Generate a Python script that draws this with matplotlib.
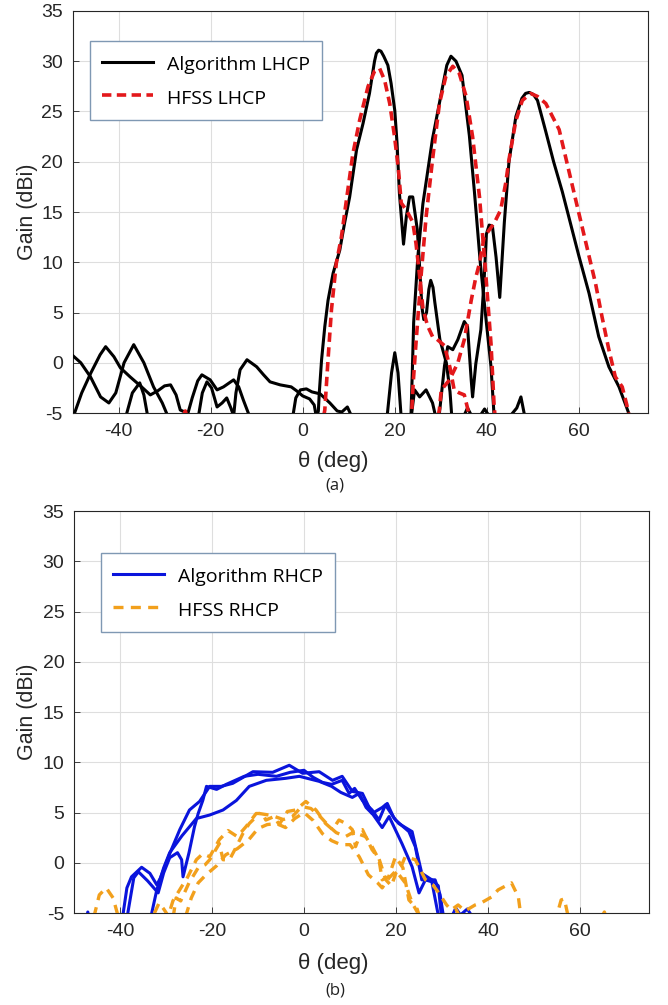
import matplotlib
matplotlib.use("Agg")
import matplotlib.pyplot as plt
import numpy as np

plt.rcParams.update({
    "font.family": ["Liberation Sans", "DejaVu Sans"],
    "axes.unicode_minus": False,
    "xtick.labelsize": 14,
    "ytick.labelsize": 14,
})

# ---- (a) LHCP : three beams, algorithm vs HFSS ----
th_alg_l1 = [-38.5, -37, -35.4, -34.5, -33.6, -30, -23.0, -22.6, -21.8, -20.8, -19.8, -18.6, -17.5, -16.5,
             -15.6, -15.0, -14.5, -13.6, -12.1, -10.0, -8.5, -7.1, -4.9, -2.5, -1.3, 0.0, 1.5, 2.5, 3.0,
             3.4, 3.6, 4.1, 4.8, 5.5, 6.6, 8.05, 9.1, 10.2, 11.7, 13.1, 14.5, 15.6, 16.0, 16.5, 17.0, 17.6,
             18.5, 19.2, 20.0, 20.5, 21.0, 21.9, 22.5, 23.2, 23.9, 24.9, 25.4, 25.9, 26.3, 26.9, 27.4, 27.8,
             28.3, 28.7, 29.8, 31.2, 32.0, 32.4, 33.5, 35.0, 35.8, 36.6, 38.5, 39.5, 40.5, 42.0, 46.5,
             47.4, 48.3, 50]
g_alg_l1 = [-5.5, -3.0, -2.0, -3.2, -5.5, -9, -6.0, -5.2, -3.0, -1.9, -2.5, -4.4, -4.0, -3.5,
            -4.5, -5.3, -3.0, -0.7, 0.3, -0.4, -1.2, -1.9, -2.2, -2.4, -2.8, -3.3, -3.6, -4.2, -5.5,
            -4.8, -3.0, 0.3, 3.6, 6.2, 8.9, 11.2, 13.9, 16.5, 21.2, 23.8, 26.8, 30.0, 30.8, 31.1, 31.0, 30.5,
            29.6, 27.8, 25.1, 21.8, 16.9, 11.8, 14.5, 16.5, 16.5, 13.2, 9.5, 5.5, 4.3, 5.0, 7.3, 8.2,
            7.5, 6.0, 2.3, 0.0, -2.9, -5.5, -6, -5.3, -4.5, -5.2, -5.3, -4.6, -5.3, -7, -4.5,
            -3.4, -5.5, -8]

th_alg_l2 = [-50, -49.7, -48, -46, -44, -42.8, -41, -39.6, -37.5, -35, -33.1, -31.5, -30, -28.7, -27.5,
             -26.6, -25.6, -25.1, -24.0, -22.8, -21.9, -20.1, -18.6, -17.2, -15.0, -13.9, -12.9, -11.4,
             -8, -2.2, -1.5, -0.5, 0.8, 2.0, 3.8, 5.9, 7.5, 8.5, 9.7, 10.8, 14, 18.3, 19.3, 20.0, 20.7,
             21.4, 22.5, 23.5, 23.8, 24.1, 25.0, 26.1, 28.2, 30.4, 31.3, 32.2, 33.3, 34.6, 36.2, 37.3,
             38.6, 39.8, 40.9, 41.6, 43, 75]
g_alg_l2 = [-8, -5.2, -3.0, -1.0, 0.8, 1.6, 0.6, -0.5, -1.4, -2.4, -3.2, -2.8, -2.3, -2.2, -3.2,
            -4.7, -4.9, -5.3, -3.5, -1.8, -1.2, -1.7, -2.7, -2.4, -1.7, -2.4, -3.7, -5.5,
            -9, -5.5, -3.5, -2.7, -2.6, -2.9, -3.1, -4.0, -4.8, -4.9, -4.4, -5.5, -9, -5.5, -1.0, 1.0, -1.0,
            -5.5, -8, -5.5, -1.0, 4.0, 10.5, 15.8, 22.3, 27.5, 29.6, 30.5, 30.0, 28.6, 22.6, 17.0,
            9.8, 4.4, -0.4, -5.5, -9, -9]

th_alg_l3 = [-51, -50.4, -48.2, -46.1, -43.9, -42.1, -40.6, -38.8, -36.7, -34.5, -32.4, -30.5, -29.4, -28,
             -20, 23.0, 23.6, 24.3, 25.4, 26.8, 28.2, 28.9, 29.3, 29.7, 30.8, 31.5, 32.6, 33.7, 35.1,
             35.8, 36.6, 36.9, 37.6, 38.7, 39.4, 39.9, 40.5, 41.2, 42.0, 42.8, 43.4, 43.8, 44.8, 46.3,
             47.6, 48.4, 49.2, 50.1, 51.0, 52.8, 54.5, 56.4, 58.2, 60.0, 62.2, 64.3, 66.5, 68.7, 70.4,
             71.2, 72]
g_alg_l3 = [1.4, 0.9, 0.0, -1.4, -3.4, -4.0, -3.0, 0.0, 1.8, 0.0, -2.4, -4.0, -5.2, -8,
            -9, -6, -5.3, -2.7, -3.4, -2.7, -4.0, -5.4, -7, -5.0, -0.3, 1.6, 1.3, 2.3, 4.1,
            3.6, -1.7, -3.4, -0.1, 3.3, 8.2, 12.8, 13.7, 13.6, 10.5, 6.5, 11.0, 14.0, 20.0, 24.5,
            26.3, 26.8, 26.9, 26.7, 26.1, 23.0, 20.0, 17.0, 13.8, 10.6, 6.9, 2.6, -0.4, -2.4, -4.5,
            -5.5, -8]

th_hfss_l1 = [-28, -26.3, -25.5, -24.7, -20, 4.3, 4.8, 5.5, 6.25, 7.3, 8.4, 9.5, 10.9, 12.4, 14.2, 15.6,
              16.7, 17.8, 18.9, 19.95, 20.8, 21.4, 22.5, 23.9, 24.6, 25.4, 26.1, 26.8, 27.2, 28.2, 29.0,
              30.8, 32.0, 32.9, 34.0, 35.1, 35.8, 36.5, 40]
g_hfss_l1 = [-8, -6, -4.8, -6, -9, -6, -4.7, 0.3, 5.3, 9.9, 12.5, 16.2, 20.8, 24.2, 27.5, 29.0,
             29.3, 28.1, 25.8, 22.5, 19.2, 15.9, 15.2, 14.0, 11.9, 8.6, 5.5, 4.2, 3.6, 2.6, 2.4,
             1.7, -0.5, -2.7, -3.0, -3.2, -4.5, -6, -9]

th_hfss_l2 = [-10, 23.0, 23.6, 24.0, 24.6, 25.7, 26.8, 28.2, 29.7, 31.1, 32.6, 34.0, 35.5, 36.9, 38.4,
              39.8, 40.9, 41.6, 42.2, 45]
g_hfss_l2 = [-9, -7, -5.5, -2.0, 1.9, 8.6, 14.5, 20.2, 25.8, 28.5, 29.5, 28.8, 26.5, 22.5, 16.5,
             8.6, 1.9, -4.5, -7, -9]

th_hfss_l3 = [20, 29.2, 29.7, 30.1, 31.0, 31.9, 33.7, 35.1, 36.6, 37.6, 38.4, 39.4, 40.5, 41.6, 43.0,
              44.1, 44.8, 46.3, 47.7, 49.5, 51.0, 52.8, 55.7, 59.3, 62.2, 63.6, 65.0, 66.5, 67.9, 69.4,
              70.4, 71.2, 73]
g_hfss_l3 = [-9, -6, -4.6, -2.7, -2.2, -1.7, 0.0, 2.3, 6.2, 8.5, 9.9, 12.5, 13.2, 13.9, 15.2,
             17.9, 20.2, 24.1, 26.1, 26.8, 26.5, 25.8, 23.2, 16.2, 10.6, 7.9, 4.6, 1.3, -1.4, -2.4,
             -4.2, -6, -9]

# ---- (b) RHCP ----
th_alg_r1 = [-48, -47, -46, -40, -39.3, -38.5, -37.5, -35.3, -33.5, -32.0, -31.2, -29.2, -27, -24.9, -22.7,
             -20.5, -18, -15.5, -11.1, -6.8, -3.2, -0.3, 3.3, 6.2, 8.3, 10.5, 12.7, 14.8, 17, 18.1, 19.5,
             20.6, 23.5, 25.6, 27.8, 29.2, 29.8, 30.5]
g_alg_r1 = [-7, -4.9, -7, -6, -5, -2.5, -1.4, -0.45, -1.05, -2.2, -1.5, 0.9, 3.3, 5.25, 6.1,
            7.6, 7.6, 7.9, 9.06, 9.0, 9.7, 8.9, 9.06, 8.2, 8.6, 7.1, 6.9, 4.9, 5.5, 5.9, 4.5,
            3.9, 3.1, -1.05, -1.7, -2.3, -5, -7]

th_alg_r2 = [-39, -38.3, -37, -36, -34, -31.7, -30.5, -29.2, -27.5, -26.6, -26.3, -25, -23.8, -23, -22,
             -21.2, -19, -16.9, -13, -10, -6, -3, 0, 2, 4, 6, 8.3, 9.8, 11, 12.7, 14.8, 16.3, 17.7, 19.9,
             22.8, 24.2, 25.6, 28.5, 29.6, 30.2, 31]
g_alg_r2 = [-7, -5, -1.5, -0.9, -1.8, -3.0, -1.0, 0.5, 1.0, 0.3, -1.4, 1.0, 3.6, 4.9, 6.2,
            7.6, 7.3, 7.8, 8.6, 8.8, 8.6, 9.0, 9.2, 8.5, 8.0, 7.8, 8.2, 6.9, 7.4, 6.2, 5.25, 4.25, 5.75, 4.25,
            3.1, 1.6, -1.7, -1.7, -3.2, -5, -7]

th_alg_r3 = [-34, -33.1, -32, -30.5, -29.2, -26.5, -23.4, -20.5, -17.6, -14.7, -11.9, -8.2, -4, -1, 3.3,
             6, 8, 10.5, 12, 13.5, 15, 17, 18.5, 21.3, 23.5, 25, 26.4, 27.8, 29.1, 30, 32, 33, 34, 35.5,
             36.5, 38]
g_alg_r3 = [-7, -5, -2.7, -0.5, 1.0, 2.7, 4.4, 4.75, 5.25, 6.2, 7.6, 8.2, 8.4, 8.6, 8.1,
            7.6, 7.0, 6.5, 6.9, 5.5, 4.8, 3.5, 4.6, 1.9, -0.4, -3.0, -1.7, -1.9, -5, -7, -5.5, -4.5, -5.2, -4.6,
            -5.3, -7]

th_hfss_r1 = [-47, -46, -44.5, -43, -41.5, -40, -34, -32.5, -31.5, -30.5, -29.5, -28.5, -26.5, -25.6, -23.4,
              -22, -20.5, -18.4, -16.5, -14.5, -12.6, -10.4, -9, -8.3, -6.5, -5.4, -3.6, -1.8, 0.4, 2.6,
              4.7, 6.2, 7.6, 9.1, 10.5, 11.2, 12.2, 13.4, 14.8, 16.3, 17, 18.4, 19.9, 21.5, 22.8, 24.6, 25.5]
g_hfss_r1 = [-7, -6, -3.2, -2.5, -3.5, -6, -7, -5, -4.0, -4.6, -5.3, -3.8, -2.3, -1.7, 0.3,
             0.9, 0.6, 2.3, 3.2, 2.6, 3.6, 4.9, 4.9, 4.25, 4.6, 3.8, 5.1, 5.25, 6.1, 5.25,
             3.9, 3.3, 4.25, 3.9, 3.3, 1.6, 2.8, 2.6, 1.6, 0.3, -1.7, -1.4, 0.6, -0.5, -3.7, -4.6, -6]

th_hfss_r2 = [-30, -28.3, -27.8, -26.8, -25, -23, -21.5, -20.5, -18.4, -17.6, -16.2, -14.7, -13.3, -11.9,
              -9.7, -7, -4.5, -2.5, -0.5, 1.5, 3.5, 5.5, 7, 9, 11, 12.7, 14.8, 16.3, 17.8, 19, 20, 21, 22,
              24.2, 26.4, 28, 29.3, 31, 32, 33.5, 35, 37.2, 38.5, 40.8, 42.2, 45.1, 46.6, 47.2, 50]
g_hfss_r2 = [-7, -5, -3.5, -3.8, -2, -0.5, -0.2, 0.3, 1.9, 0.3, 0.3, 1.6, 2.9, 3.9,
             4.9, 4.7, 4.3, 4.6, 5.6, 5.4, 4.6, 3.6, 3.0, 2.6, 3.1, 3.3, 1.3, 0.4, -1.7, -2.3, -1.0, -0.5, 0.6,
             0.3, -1.7, -2.2, -3.0, -4.2, -4.7, -4.2, -4.8, -4.2, -4.0, -3.4, -2.7, -2.0, -3.4, -5.5, -8]

th_hfss_r3 = [-27, -25.5, -24.5, -23, -21.3, -19, -17, -14.5, -12, -10, -8, -6, -4, -2, 0, 2, 4, 6, 8,
              10, 12, 14, 16, 17, 18.5, 20, 22, 23.5, 25, 32, 33, 34, 54.5, 55.9, 56.6, 57.5, 64, 65.3, 66]
g_hfss_r3 = [-7, -5, -3.5, -2, -1.2, -0.3, 0.8, 1.4, 2.3, 3.4, 3.8, 3.9, 3.5, 4.4, 5.0, 4.2, 2.9, 2.2, 1.8,
             1.8, 0.6, -1.2, -2.0, -2.5, -1.5, -0.8, -2, -4, -5.2, -5.5, -4.6, -5.5, -6, -3.7, -3.6, -5.5, -6,
             -4.9, -6]

x_ticks = [-40, -20, 0, 20, 40, 60]
y_ticks = list(range(-5, 36, 5))

BLACK = "#000000"
RED = "#E3181B"
BLUE = "#0A14DC"
ORANGE = "#F2A01C"


def style_axes(ax):
    ax.set_xlim(-50, 75)
    ax.set_ylim(-5, 35)
    ax.set_xticks(x_ticks)
    ax.set_yticks(y_ticks)
    ax.grid(True, color="#dedede", linewidth=0.8)
    ax.set_axisbelow(True)
    ax.tick_params(direction="in", length=4, width=0.6, colors="#262626", pad=7)
    for sp in ax.spines.values():
        sp.set_color("#262626")
        sp.set_linewidth(0.8)


def add_legend(ax, handles, labels, anchor):
    leg = ax.legend(handles, labels, loc="upper left", bbox_to_anchor=anchor,
                    borderaxespad=0, fancybox=False, framealpha=1,
                    edgecolor="#7f98b3", handlelength=2.6, handleheight=1.3,
                    handletextpad=0.72, labelspacing=0.65, borderpad=0.62,
                    prop={"family": "Open Sans", "size": 14})
    leg.get_frame().set_linewidth(1.0)
    leg.set_zorder(10)
    return leg


fig = plt.figure(figsize=(6.68, 10.05), dpi=100)
ax1 = fig.add_axes([72.5 / 668, 1 - 413 / 1005, 575.5 / 668, 402 / 1005])
ax2 = fig.add_axes([74 / 668, 1 - 913 / 1005, 575 / 668, 402 / 1005])

# (a)
alg_l = [(th_alg_l1, g_alg_l1), (th_alg_l2, g_alg_l2), (th_alg_l3, g_alg_l3)]
hfss_l = [(th_hfss_l1, g_hfss_l1), (th_hfss_l2, g_hfss_l2), (th_hfss_l3, g_hfss_l3)]
for t, g in alg_l:
    la, = ax1.plot(t, g, color=BLACK, lw=2.2, zorder=3)
for t, g in hfss_l:
    lh, = ax1.plot(t, g, color=RED, lw=2.6, linestyle=(0, (2.6, 1.5)), zorder=4)
style_axes(ax1)
add_legend(ax1, [la, lh], ["Algorithm LHCP", "HFSS LHCP"], ((90 - 72.5) / 575.5, (413 - 41) / 402))

# (b)
alg_r = [(th_alg_r1, g_alg_r1), (th_alg_r2, g_alg_r2), (th_alg_r3, g_alg_r3)]
hfss_r = [(th_hfss_r1, g_hfss_r1), (th_hfss_r2, g_hfss_r2), (th_hfss_r3, g_hfss_r3)]
for t, g in alg_r:
    ra, = ax2.plot(t, g, color=BLUE, lw=2.2, zorder=3)
for t, g in hfss_r:
    rh, = ax2.plot(t, g, color=ORANGE, lw=2.4, linestyle=(0, (3, 2.2)), zorder=4)
style_axes(ax2)
add_legend(ax2, [ra, rh], ["Algorithm RHCP", "HFSS RHCP"], ((101 - 74) / 575, (913 - 553) / 402))

# axis labels and captions
for yc in (212, 712):
    fig.text(27 / 668, 1 - yc / 1005, "Gain (dBi)", rotation=90, ha="center", va="center",
             fontsize=15.5, color="#262626")
for yc in (461, 963):
    fig.text(333 / 668, 1 - yc / 1005, "θ (deg)", ha="center", va="center",
             fontsize=16, color="#262626")
fig.text(335 / 668, 1 - 486 / 1005, "(a)", ha="center", va="center", fontsize=12,
         family="Open Sans", color="#202020")
fig.text(335 / 668, 1 - 990 / 1005, "(b)", ha="center", va="center", fontsize=12,
         family="Open Sans", color="#202020")

fig.savefig("out.png", dpi=100)
